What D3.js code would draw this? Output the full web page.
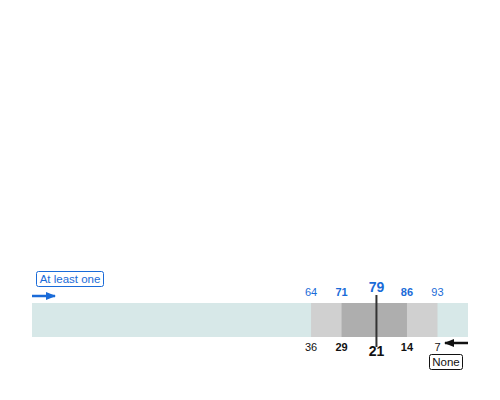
<!DOCTYPE html>
<html><head><meta charset="utf-8">
<script src="https://cdn.jsdelivr.net/npm/d3@7"></script>
<style>body{margin:0;background:#fff}svg{display:block;font-family:"Liberation Sans",Arial,sans-serif}</style>
</head><body><svg id="c" width="500" height="400"></svg>
<script>
// Percent of respondents: "at least one" cumulative percentiles, "none" complement
const percentiles = [5, 25, 50, 75, 95];
const atLeastOne = [64, 71, 79, 86, 93];
const none = [36, 29, 21, 14, 7];
const emphasis = ["normal", "bold", "median", "bold", "normal"];

const svg = d3.select("#c");
const x = d3.scaleLinear().domain([0, 100]).range([32, 468]);
const barTop = 303, barH = 34;
const blue = "#1a6bd8";

svg.append("defs").call(d => {
  d.append("marker").attr("id", "ab").attr("viewBox", "0 0 10 10").attr("refX", 9).attr("refY", 5)
    .attr("markerWidth", 4).attr("markerHeight", 4).attr("orient", "auto")
    .append("path").attr("d", "M0,1L10,5L0,9z").attr("fill", blue);
  d.append("marker").attr("id", "ak").attr("viewBox", "0 0 10 10").attr("refX", 9).attr("refY", 5)
    .attr("markerWidth", 4).attr("markerHeight", 4).attr("orient", "auto")
    .append("path").attr("d", "M0,1L10,5L0,9z").attr("fill", "#111");
});

// background bar
svg.append("rect").attr("x", x(0)).attr("y", barTop).attr("width", x(100) - x(0)).attr("height", barH).attr("fill", "#d7e8e8");
// outer band 5-95
svg.append("rect").attr("x", x(atLeastOne[0])).attr("y", barTop).attr("width", x(atLeastOne[4]) - x(atLeastOne[0])).attr("height", barH).attr("fill", "#d0d0d0");
// inner band 25-75
svg.append("rect").attr("x", x(atLeastOne[1])).attr("y", barTop).attr("width", x(atLeastOne[3]) - x(atLeastOne[1])).attr("height", barH).attr("fill", "#aeaeae");
// median
svg.append("line").attr("x1", x(atLeastOne[2])).attr("x2", x(atLeastOne[2])).attr("y1", 295).attr("y2", 347)
  .attr("stroke", "#333").attr("stroke-width", 2);

// top labels
svg.selectAll("text.top").data(atLeastOne).join("text").attr("class", "top")
  .attr("x", d => x(d)).attr("y", (d, i) => emphasis[i] === "median" ? 292 : 296)
  .attr("text-anchor", "middle").attr("fill", blue)
  .attr("font-size", (d, i) => emphasis[i] === "median" ? 14 : 11)
  .attr("font-weight", (d, i) => emphasis[i] === "normal" ? "normal" : "bold")
  .text(d => d);
// bottom labels
svg.selectAll("text.bot").data(none).join("text").attr("class", "bot")
  .attr("x", (d, i) => x(atLeastOne[i])).attr("y", (d, i) => emphasis[i] === "median" ? 356 : 351)
  .attr("text-anchor", "middle").attr("fill", "#111")
  .attr("font-size", (d, i) => emphasis[i] === "median" ? 14 : 11)
  .attr("font-weight", (d, i) => emphasis[i] === "normal" ? "normal" : "bold")
  .text(d => d);

// "At least one" legend
svg.append("rect").attr("x", 36.5).attr("y", 271.5).attr("width", 67).attr("height", 15).attr("rx", 2)
  .attr("fill", "#fff").attr("stroke", blue).attr("stroke-width", 1);
svg.append("text").attr("x", 70).attr("y", 283).attr("text-anchor", "middle").attr("font-size", 11.5).attr("fill", blue).text("At least one");
svg.append("line").attr("x1", x(0)).attr("x2", 55).attr("y1", 296).attr("y2", 296)
  .attr("stroke", blue).attr("stroke-width", 2.5).attr("marker-end", "url(#ab)");

// "None" legend
svg.append("rect").attr("x", 429.5).attr("y", 354.5).attr("width", 33).attr("height", 15).attr("rx", 2)
  .attr("fill", "#fff").attr("stroke", "#111").attr("stroke-width", 1);
svg.append("text").attr("x", 446).attr("y", 366).attr("text-anchor", "middle").attr("font-size", 11.5).attr("fill", "#111").text("None");
svg.append("line").attr("x1", x(100)).attr("x2", 445).attr("y1", 343).attr("y2", 343)
  .attr("stroke", "#111").attr("stroke-width", 2.5).attr("marker-end", "url(#ak)");
</script></body></html>
